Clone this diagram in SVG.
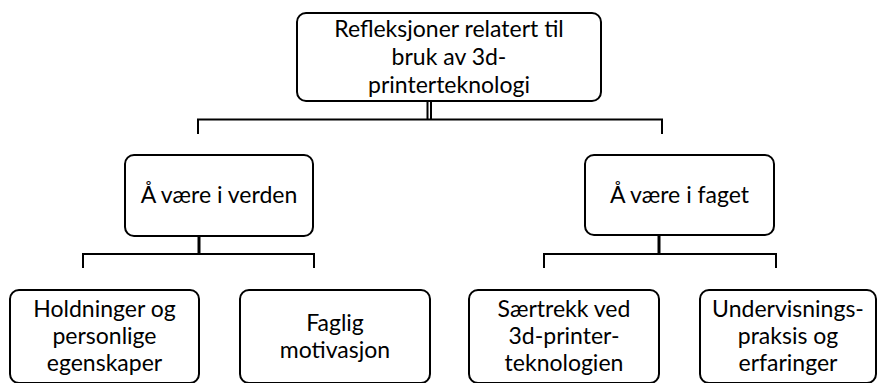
<svg xmlns="http://www.w3.org/2000/svg" width="877" height="383" viewBox="0 0 877 383">
<style>
.box{fill:#fff;stroke:#000;stroke-width:2}
.t{font-family:Lato,"Open Sans","Liberation Sans",sans-serif;font-size:23px;fill:#000;text-anchor:middle}
.c{fill:none;stroke:#000;stroke-width:2}
</style>
<rect width="877" height="383" fill="#fff"/>
<g id="connectors">
<line class="c" x1="427.5" y1="101" x2="427.5" y2="119"/>
<line class="c" x1="431" y1="101" x2="431" y2="119"/>
<polyline class="c" points="198,134 198,119.5 662,119.5 662,134"/>
<line class="c" x1="199" y1="236" x2="199" y2="254" style="stroke-width:3"/>
<polyline class="c" points="83,268 83,254 314,254 314,268"/>
<line class="c" x1="659" y1="235" x2="659" y2="254" style="stroke-width:3"/>
<polyline class="c" points="544,268 544,254 776,254 776,268"/>
</g>
<g id="root">
<rect class="box" x="297" y="13" width="304" height="88" rx="9"/>
<text class="t" x="449" y="37">Refleksjoner relatert til</text>
<text class="t" x="449" y="65">bruk av 3d-</text>
<text class="t" x="449" y="93">printerteknologi</text>
</g>
<g id="verden">
<rect class="box" x="125" y="155" width="188" height="81" rx="9"/>
<text class="t" x="219" y="203">Å være i verden</text>
</g>
<g id="faget">
<rect class="box" x="585" y="155" width="189" height="80" rx="9"/>
<text class="t" x="679.5" y="203">Å være i faget</text>
</g>
<g id="holdninger">
<rect class="box" x="10" y="290" width="189" height="93" rx="9"/>
<text class="t" x="104.5" y="317">Holdninger og</text>
<text class="t" x="104.5" y="344">personlige</text>
<text class="t" x="104.5" y="371">egenskaper</text>
</g>
<g id="motivasjon">
<rect class="box" x="240" y="290" width="190" height="93" rx="9"/>
<text class="t" x="335" y="331">Faglig</text>
<text class="t" x="335" y="358">motivasjon</text>
</g>
<g id="saertrekk">
<rect class="box" x="469" y="290" width="190" height="93" rx="9"/>
<text class="t" x="564" y="317">Særtrekk ved</text>
<text class="t" x="564" y="344">3d-printer-</text>
<text class="t" x="564" y="371">teknologien</text>
</g>
<g id="undervisning">
<rect class="box" x="700" y="290" width="176" height="93" rx="9"/>
<text class="t" x="788" y="317">Undervisnings-</text>
<text class="t" x="788" y="344">praksis og</text>
<text class="t" x="788" y="371">erfaringer</text>
</g>
</svg>
